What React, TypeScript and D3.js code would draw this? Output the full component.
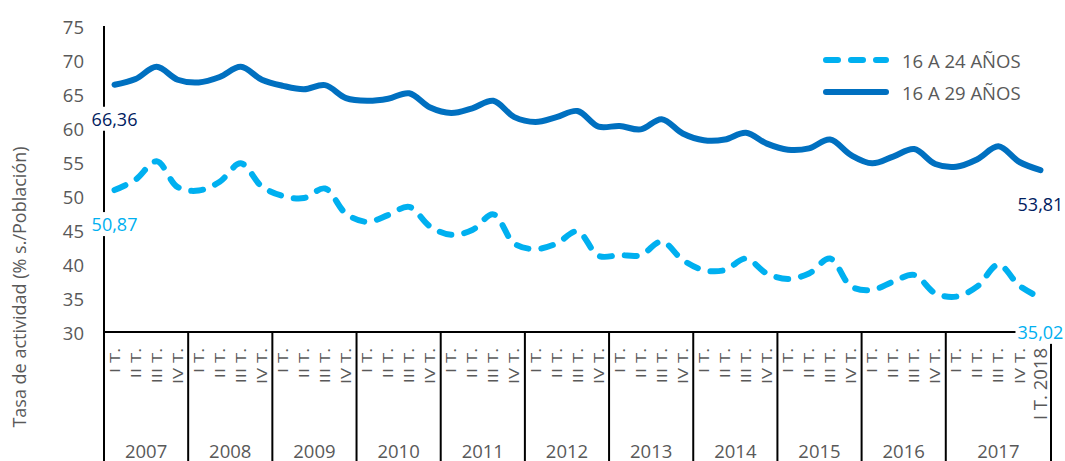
import React from "react";
import * as d3 from "d3";

const quarterLabels: string[] = [
  "I T.", "II T.", "III T.", "IV T.",
  "I T.", "II T.", "III T.", "IV T.",
  "I T.", "II T.", "III T.", "IV T.",
  "I T.", "II T.", "III T.", "IV T.",
  "I T.", "II T.", "III T.", "IV T.",
  "I T.", "II T.", "III T.", "IV T.",
  "I T.", "II T.", "III T.", "IV T.",
  "I T.", "II T.", "III T.", "IV T.",
  "I T.", "II T.", "III T.", "IV T.",
  "I T.", "II T.", "III T.", "IV T.",
  "I T.", "II T.", "III T.", "IV T.",
  "I T. 2018",
];

const yearLabels: string[] = ["2007", "2008", "2009", "2010", "2011", "2012", "2013", "2014", "2015", "2016", "2017"];
const yearSizes: number[] = [4, 4, 4, 4, 4, 4, 4, 4, 4, 4, 5];

const serie1624: number[] = [
  50.87, 52.4, 55.1, 51.3,
  50.8, 52.1, 54.8, 51.4,
  50.0, 49.7, 51.1, 47.4,
  46.2, 47.2, 48.4, 45.5,
  44.3, 45.0, 47.3, 43.0,
  42.2, 43.0, 44.8, 41.2,
  41.3, 41.3, 43.3, 40.6,
  39.1, 39.1, 40.8, 38.6,
  37.8, 38.6, 40.8, 36.7,
  36.2, 37.4, 38.4, 35.7,
  35.2, 36.7, 39.9, 36.8,
  35.02,
];

const serie1629: number[] = [
  66.36, 67.2, 69.0, 67.1,
  66.7, 67.5, 69.0, 67.1,
  66.2, 65.7, 66.3, 64.4,
  64.0, 64.3, 65.1, 63.0,
  62.2, 62.9, 64.0, 61.6,
  60.9, 61.6, 62.5, 60.2,
  60.3, 59.8, 61.3, 59.2,
  58.2, 58.3, 59.3, 57.7,
  56.8, 57.0, 58.3, 56.0,
  54.8, 55.8, 56.9, 54.7,
  54.3, 55.4, 57.3, 55.0,
  53.81,
];

const yTicks: number[] = [30, 35, 40, 45, 50, 55, 60, 65, 70, 75];

const seriesNames: string[] = ["16 A 24 AÑOS", "16 A 29 AÑOS"];
const firstLabels: string[] = ["50,87", "66,36"];
const lastLabels: string[] = ["35,02", "53,81"];

const W = 1065;
const H = 461;
const FONT = "'Open Sans', sans-serif";
const GRAY = "#595959";
const C1624 = "#00B0F0";
const C1629 = "#0070C0";
const C1629LBL = "#002060";

export default function App() {
  const idx = quarterLabels.map((_, i) => i);
  const x = d3.scaleBand<number>().domain(idx).range([104, 1051]).padding(0);
  const y = d3.scaleLinear().domain([30, 75]).range([332, 26]);
  const cx = (i: number) => (x(i) as number) + x.bandwidth() / 2;

  const line = d3
    .line<number>()
    .x((_, i) => cx(i))
    .y((d) => y(d))
    .curve(d3.curveCatmullRom.alpha(0.5));

  const starts: number[] = [];
  let acc = 0;
  yearSizes.forEach((s) => {
    starts.push(acc);
    acc += s;
  });
  const sepXs = starts.map((s) => x(s) as number).concat([1051]);

  const dataLabel = (
    i: number,
    v: number,
    text: string,
    color: string,
    key: string
  ) => {
    const px = cx(i);
    const py = y(v) + 34;
    const w = 50;
    return (
      <g key={key}>
        <rect x={px - w / 2} y={py - 12} width={w} height={24} fill="#fff" />
        <text
          x={px}
          y={py}
          textAnchor="middle"
          dominantBaseline="central"
          fontSize={18}
          fill={color}
        >
          {text}
        </text>
      </g>
    );
  };

  const last = quarterLabels.length - 1;

  return (
    <svg
      width={W}
      height={H}
      style={{ position: "absolute", left: 0, top: 0, background: "#fff" }}
      fontFamily={FONT}
    >
      <text
        transform={`translate(19,287) rotate(-90)`}
        textAnchor="middle"
        dominantBaseline="central"
        fontSize={18}
        fill={GRAY}
      >
        Tasa de actividad (% s./Población)
      </text>

      {yTicks.map((t) => (
        <text
          key={t}
          x={84}
          y={y(t)}
          textAnchor="end"
          dominantBaseline="central"
          fontSize={18.5}
          fill={GRAY}
        >
          {t}
        </text>
      ))}

      <line x1={104} x2={104} y1={y(75)} y2={y(30)} stroke="#000" strokeWidth={2} />
      <line x1={103} x2={1051} y1={y(30)} y2={y(30)} stroke="#000" strokeWidth={2} />

      {sepXs.map((sx, k) => (
        <line key={k} x1={sx} x2={sx} y1={y(30)} y2={H} stroke="#000" strokeWidth={2} />
      ))}

      {quarterLabels.map((q, i) => {
        const isLast = i === last;
        return (
          <text
            key={i}
            transform={`translate(${cx(i)},348) rotate(-90) scale(1,${isLast ? 0.95 : 0.75})`}
            textAnchor="end"
            dominantBaseline="central"
            fontSize={18.5}
            fill={GRAY}
          >
            {q}
          </text>
        );
      })}

      {yearLabels.map((yl, k) => {
        const x0 = sepXs[k];
        const x1 = sepXs[k + 1];
        return (
          <text
            key={yl}
            x={(x0 + x1) / 2}
            y={450}
            textAnchor="middle"
            dominantBaseline="central"
            fontSize={18.5}
            fill={GRAY}
          >
            {yl}
          </text>
        );
      })}

      <path
        d={line(serie1629) || ""}
        fill="none"
        stroke={C1629}
        strokeWidth={6}
        strokeLinecap="round"
        strokeLinejoin="round"
      />
      <path
        d={line(serie1624) || ""}
        fill="none"
        stroke={C1624}
        strokeWidth={6}
        strokeLinecap="round"
        strokeLinejoin="round"
        strokeDasharray="12 13"
      />

      {dataLabel(0, serie1629[0], firstLabels[1], C1629LBL, "f29")}
      {dataLabel(0, serie1624[0], firstLabels[0], C1624, "f24")}
      {dataLabel(last, serie1629[last], lastLabels[1], C1629LBL, "l29")}
      {dataLabel(last, serie1624[last], lastLabels[0], C1624, "l24")}

      <line
        x1={826}
        x2={886}
        y1={60}
        y2={60}
        stroke={C1624}
        strokeWidth={6}
        strokeLinecap="round"
        strokeDasharray="12 13"
      />
      <text x={902} y={60} dominantBaseline="central" fontSize={18.5} fill={GRAY}>
        {seriesNames[0]}
      </text>
      <line
        x1={826}
        x2={886}
        y1={92}
        y2={92}
        stroke={C1629}
        strokeWidth={6}
        strokeLinecap="round"
      />
      <text x={902} y={92} dominantBaseline="central" fontSize={18.5} fill={GRAY}>
        {seriesNames[1]}
      </text>
    </svg>
  );
}
